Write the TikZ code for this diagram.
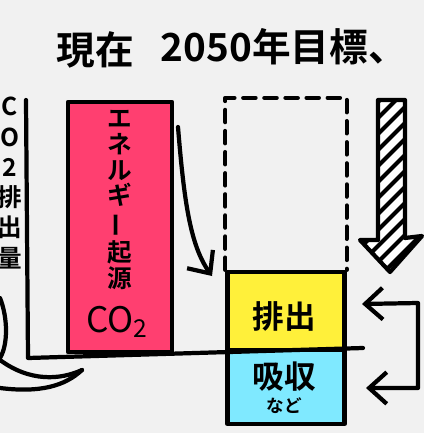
\documentclass[tikz,border=0pt]{standalone}
\usepackage{fontspec}
\usepackage{tikz}
\usetikzlibrary{positioning,arrows.meta}
\newfontfamily\jp{Noto Sans CJK JP}[BoldFont={Noto Sans CJK JP Bold}]

\definecolor{paper}{HTML}{F1F1F1}
\definecolor{sourcepink}{HTML}{FF3F70}
\definecolor{emityellow}{HTML}{FFF03A}
\definecolor{absorbcyan}{HTML}{7FE9FF}

\tikzset{
  ink/.style={line width=1.2pt,line cap=round,line join=round},
  box/.style={ink,draw=black,inner sep=0pt},
  barb/.style={-{Straight Barb[length=5pt,width=9pt]}},
  label jp/.style={font=\jp\bfseries}
}

\begin{document}
\begin{tikzpicture}[x=0.01cm,y=-0.01cm]
  \fill[paper] (0,0) rectangle (424,433);
  \useasboundingbox (0,0) rectangle (424,433);

  %Nodes
  \node at (95,50) [label jp,font=\jp\bfseries\fontsize{11}{13}\selectfont] (now) {現在};
  \node at (284,47) [label jp,font=\jp\bfseries\fontsize{11}{13}\selectfont] (target) {2050年目標、};
  \node at (10,183) [label jp,font=\jp\bfseries\fontsize{7}{8.6}\selectfont,align=center,inner sep=0pt] (axistext) {C\\O\\2\\排\\出\\量};

  \node at (120,227) [box,fill=sourcepink,minimum width=1.04cm,minimum height=2.5cm] (energy) {};
  \node at (120,200) [label jp,font=\jp\bfseries\fontsize{7}{7.3}\selectfont,align=center] (energytext)
    {エ\\ネ\\ル\\ギ\\\rotatebox[origin=c]{90}{ー}\\起\\源};
  \node at (118,322) [font=\jp\fontsize{10}{12}\selectfont] (co2) {CO\textsubscript{2}};

  \node at (286,311) [box,fill=emityellow,minimum width=1.17cm,minimum height=0.78cm] (emit) {};
  \node at (284,316) [label jp,font=\jp\bfseries\fontsize{9}{10}\selectfont] (emittext) {排出};
  \node at (286,387) [box,fill=absorbcyan,minimum width=1.17cm,minimum height=0.74cm] (absorb) {};
  \node at (284,377) [label jp,font=\jp\bfseries\fontsize{9}{10}\selectfont] (absorbtext) {吸収};
  \node at (284,406) [label jp,font=\jp\bfseries\fontsize{5}{6}\selectfont] (etc) {など};

  \coordinate (axtop) at (26,100);
  \coordinate (axcorner) at (28,358);
  \coordinate (axend) at (363,348);
  \coordinate (curvestart) at (178,127);
  \coordinate (curveend) at (212,276);
  \coordinate (backtop) at (362,304);
  \coordinate (backbot) at (366,388);
  \coordinate (swooshtip) at (82,370);

  %Lines
  \draw[ink] (axtop) -- (axcorner) -- (axend);
  \draw[ink,barb] (curvestart) .. controls (184,200) and (190,245) .. (curveend);
  \draw[ink,dash pattern=on 3.5pt off 2.5pt] (emit.north west) -- ++(0,-172) -| (emit.north east);
  \draw[ink,{Straight Barb[length=5pt,width=9pt]}-{Straight Barb[length=5pt,width=9pt]}]
    (backtop) -- (418,303) -- (418,388) -- (backbot);

  % hatched arrow
  \begin{scope}
    \clip (378,100) -- (405,100) -- (405,238) -- (422,236) -- (390,272) -- (360,240) -- (378,240) -- cycle;
    \fill[white] (350,90) rectangle (430,280);
    \foreach \k in {0,...,11}
      \draw[ink] (350,130+\k*16) -- ++(80,-80);
  \end{scope}
  \draw[ink] (378,100) -- (405,100) -- (405,238) -- (422,236) -- (390,272) -- (360,240) -- (378,240) -- cycle;

  % swoosh
  \draw[ink] (0,298) .. controls (8,318) and (8,345) .. (0,358);
  \draw[ink] (0,360) .. controls (30,382) and (60,380) .. (swooshtip);
  \draw[ink] (0,388) .. controls (40,393) and (65,386) .. (swooshtip);
\end{tikzpicture}
\end{document}
